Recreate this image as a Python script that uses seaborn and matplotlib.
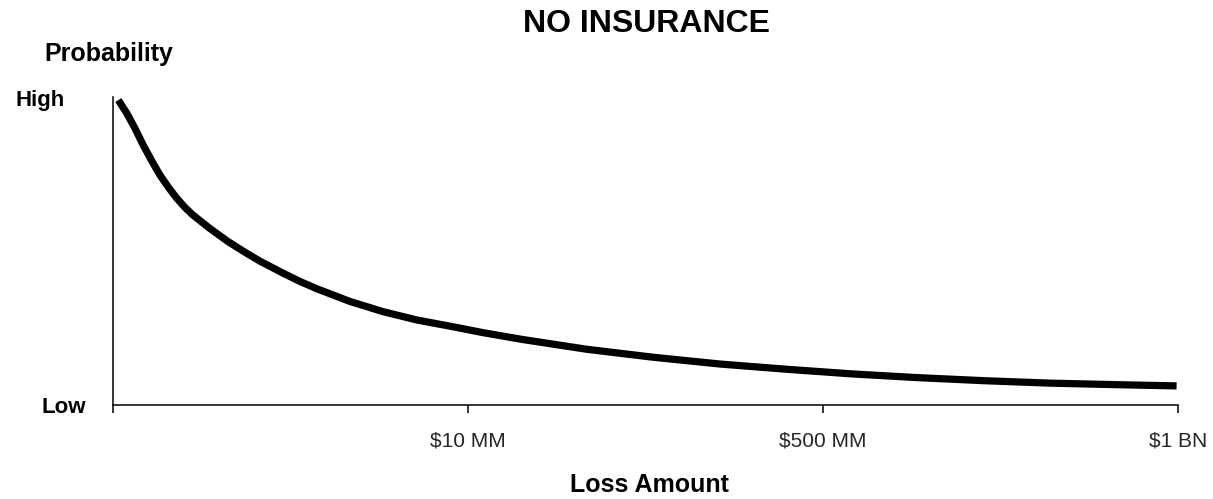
import matplotlib
matplotlib.use("Agg")
import matplotlib.pyplot as plt
import matplotlib.transforms as mtransforms
import seaborn as sns
import pandas as pd

# Loss-distribution curve (x: position on the loss scale, y: relative probability)
loss_pos = [0.015, 0.039, 0.062, 0.085, 0.109, 0.132, 0.156, 0.179, 0.203, 0.225,
            0.273, 0.321, 0.366, 0.414, 0.479, 0.527, 0.575, 0.668, 0.761, 0.856,
            0.949, 1.042, 1.152, 1.334, 1.522, 1.710, 1.898, 2.081, 2.264, 2.452,
            2.639, 2.827, 2.996]
probability = [0.990, 0.947, 0.898, 0.844, 0.793, 0.747, 0.707, 0.672, 0.641, 0.617,
               0.573, 0.533, 0.500, 0.467, 0.428, 0.401, 0.377, 0.336, 0.303, 0.276,
               0.256, 0.235, 0.213, 0.181, 0.155, 0.133, 0.116, 0.101, 0.089, 0.079,
               0.071, 0.066, 0.062]

x_ticks = [0, 1, 2, 3]
x_tick_labels = ["", "$10 MM", "$500 MM", "$1 BN"]
y_levels = [0, 1]
y_level_labels = ["Low", "High"]

sns.set_style("white")
plt.rcParams["font.family"] = ["Liberation Sans", "DejaVu Sans"]

fig = plt.figure(figsize=(12.13, 4.99), dpi=100)
ax = fig.add_axes([113 / 1213, 1 - 405 / 499, (1178 - 113) / 1213, (405 - 97) / 499])

df = pd.DataFrame({"loss": loss_pos, "prob": probability})
sns.lineplot(data=df, x="loss", y="prob", ax=ax, color="black", linewidth=5.2,
             sort=False, estimator=None)
for ln in ax.lines:
    ln.set_solid_capstyle("butt")
    ln.set_solid_joinstyle("round")

ax.set_xlim(0, 3)
ax.set_ylim(0, 1)

for side in ["top", "right"]:
    ax.spines[side].set_visible(False)
for side in ["left", "bottom"]:
    ax.spines[side].set_visible(True)
    ax.spines[side].set_color("black")
    ax.spines[side].set_linewidth(1.1)

ax.set_xticks(x_ticks)
ax.set_xticklabels(x_tick_labels, fontsize=15)
ax.tick_params(axis="x", direction="out", length=6, width=1.1, color="black",
               pad=13, bottom=True)
ax.set_yticks([])
ax.set_xlabel("")
ax.set_ylabel("")

# Probability level labels to the left of the axis
trans = mtransforms.blended_transform_factory(fig.transFigure, ax.transData)
level_x = {"Low": 64 / 1213, "High": 40 / 1213}
for lvl, lab in zip(y_levels, y_level_labels):
    yv = lvl + (-0.007 if lvl == 0 else -0.01)
    ax.text(level_x[lab], yv, lab, transform=trans, ha="center", va="center",
            fontsize=16, fontweight="bold", color="black")

fig.text(646 / 1213, 1 - 24 / 499, "NO INSURANCE", ha="center", va="center",
         fontsize=23, fontweight="bold", color="black")
fig.text(109 / 1213, 1 - 54 / 499, "Probability", ha="center", va="center",
         fontsize=18, fontweight="bold", color="black")
fig.text(649 / 1213, 1 - 485 / 499, "Loss Amount", ha="center", va="center",
         fontsize=18, fontweight="bold", color="black")

fig.savefig("out.png", dpi=100, facecolor="white")
